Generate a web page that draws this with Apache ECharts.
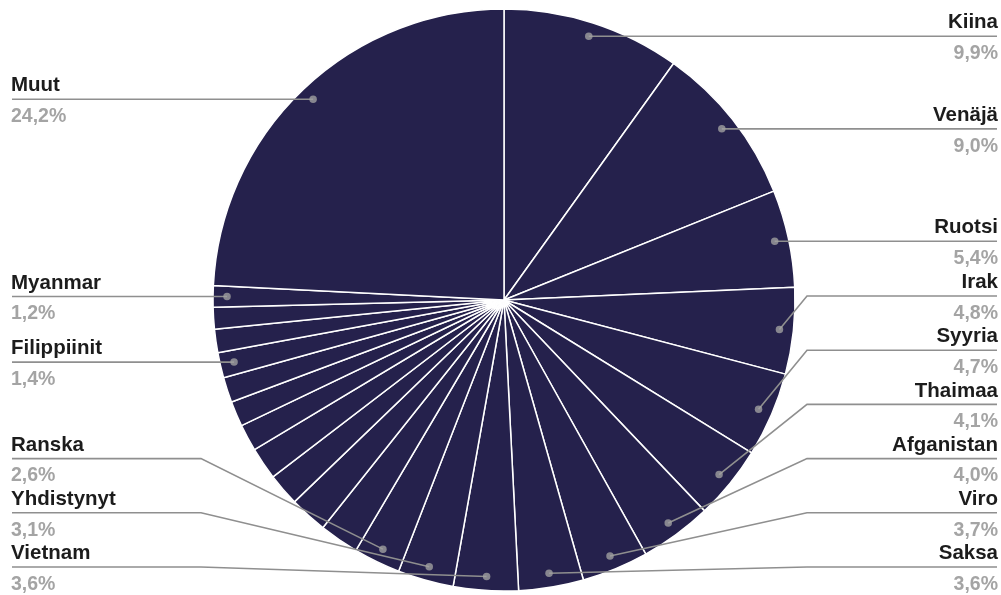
<!DOCTYPE html>
<html>
<head>
<meta charset="utf-8">
<script src="https://cdn.jsdelivr.net/npm/echarts@6.0.0/dist/echarts.min.js"></script>
<style>html,body{margin:0;padding:0;background:#fff}#c{width:1001px;height:595px}</style>
</head>
<body>
<div id="c"></div>
<script>
// ---- data ----
const categories = ['Kiina','Venäjä','Ruotsi','Irak','Syyria','Thaimaa','Afganistan','Viro','Saksa',
  'Vietnam','Yhdistynyt','Ranska','','','','','','','','Filippiinit','','','Myanmar','Muut'];
const values = [9.9,9.0,5.4,4.8,4.7,4.1,4.0,3.7,3.6,
  3.6,3.1,2.6,2.2,2.1,1.8,1.8,1.5,1.4,1.4,1.4,1.3,1.2,1.2,24.2];

// ---- geometry settings ----
const W = 1001, H = 595;
const CX = 504, CY = 300, R = 291, R_DOT = 277, ELBOW = 12, SPACING = 54.2;
const FONT = 'Liberation Sans, Arial, sans-serif';

const total = values.reduce((a, b) => a + b, 0);
const mids = [];
let cum = 0;
values.forEach(v => { mids.push(cum + v / 2); cum += v; });

// label placement (stacked per side to avoid overlap)
const layoutInfo = {};
const left = [], right = [];
categories.forEach((name, i) => {
  if (!name) return;
  const a = mids[i] / total * 2 * Math.PI;
  const dx = Math.sin(a), dy = -Math.cos(a);
  const it = { dotX: CX + R_DOT * dx, dotY: CY + R_DOT * dy, right: dx >= 0 };
  it.y = it.dotY;
  (it.right ? right : left).push(it);
  layoutInfo[i] = it;
});
[left, right].forEach(list => {
  list.sort((a, b) => a.dotY - b.dotY);
  const top = 28, bottom = H - 28;
  for (let k = 0; k < list.length; k++) {
    let y = Math.max(list[k].dotY, top);
    if (k > 0) y = Math.max(y, list[k - 1].y + SPACING);
    list[k].y = y;
  }
  for (let k = list.length - 1; k >= 0; k--) {
    let y = Math.min(list[k].y, bottom);
    if (k < list.length - 1) y = Math.min(y, list[k + 1].y - SPACING);
    list[k].y = y;
  }
});

const fmt = v => v.toFixed(1).replace('.', ',') + '%';

const pieData = values.map((v, i) => ({ name: categories[i], value: v }));
const labelData = values.map((v, i) => ({
  name: categories[i],
  value: v,
  label: { show: !!categories[i] },
  labelLine: { show: !!categories[i] }
}));
const dotData = [];
categories.forEach((name, i) => { if (name) dotData.push([R_DOT, mids[i]]); });

const chart = echarts.init(document.getElementById('c'), null, { renderer: 'canvas' });
chart.setOption({
  animation: false,
  backgroundColor: '#ffffff',
  polar: { center: [CX, CY], radius: R },
  angleAxis: { type: 'value', min: 0, max: total, startAngle: 90, clockwise: true, show: false,
    axisLine: { show: false }, axisTick: { show: false }, axisLabel: { show: false }, splitLine: { show: false } },
  radiusAxis: { type: 'value', min: 0, max: R, show: false,
    axisLine: { show: false }, axisTick: { show: false }, axisLabel: { show: false }, splitLine: { show: false } },
  series: [
    {
      type: 'pie',
      center: [CX, CY],
      radius: R,
      startAngle: 90,
      clockwise: true,
      emphasis: { disabled: true },
      silent: true,
      data: pieData,
      itemStyle: { color: '#25214c', borderColor: '#ffffff', borderWidth: 1.5 },
      label: { show: false },
      labelLine: { show: false },
      z: 2
    },
    {
      type: 'pie',
      center: [CX, CY],
      radius: R,
      startAngle: 90,
      clockwise: true,
      avoidLabelOverlap: false,
      emphasis: { disabled: true },
      silent: true,
      z: 5,
      data: labelData,
      itemStyle: { color: 'rgba(0,0,0,0)', borderWidth: 0 },
      label: {
        position: 'outside',
        alignTo: 'edge',
        edgeDistance: 11,
        formatter: p => '{n|' + p.name + '}\n{g| }\n{p|' + fmt(p.value) + '}',
        rich: {
          n: { fontFamily: FONT, fontWeight: 'bold', fontSize: 20.5, color: '#1c1c1c', lineHeight: 24 },
          g: { fontSize: 2, lineHeight: 7 },
          p: { fontFamily: FONT, fontWeight: 'bold', fontSize: 19.5, color: '#a4a4a4', lineHeight: 24 }
        }
      },
      labelLine: { show: true, showAbove: true, length: 10, length2: 10, smooth: false,
        lineStyle: { color: '#8f8f8f', width: 1.6 } },
      labelLayout: function (params) {
        const it = layoutInfo[params.dataIndex];
        if (!it) return {};
        const elbowX = it.right ? CX + R + ELBOW : CX - R - ELBOW;
        const endX = it.right ? W - 4 : 12;
        return {
          x: it.right ? W - 3 : 11,
          y: it.y + 2,
          labelLinePoints: [[it.dotX, it.dotY], [elbowX, it.y], [endX, it.y]]
        };
      }
    },
    {
      type: 'scatter',
      coordinateSystem: 'polar',
      data: dotData,
      symbolSize: 7.5,
      itemStyle: { color: '#a0a0a0' },
      z: 10,
      silent: true
    }
  ]
});
</script>
</body>
</html>
